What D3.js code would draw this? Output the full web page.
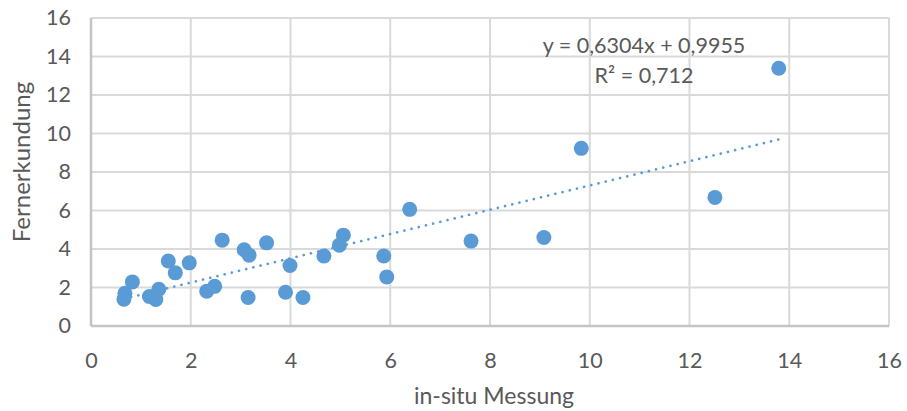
<!DOCTYPE html>
<html>
<head>
<meta charset="utf-8">
<script src="https://cdn.jsdelivr.net/npm/d3@7"></script>
<style>
  body { margin: 0; background: #fff; }
  text { font-family: Lato, "Open Sans", sans-serif; fill: #595959; }
</style>
</head>
<body>
<div id="chart"></div>
<script>
var width = 907,
  height = 411;

var margin = {top: 18, right: 18, bottom: 85, left: 91};

// in-situ Messung (x) vs Fernerkundung (y)
var insitu = [0.66, 0.68, 0.83, 1.17, 1.30, 1.36, 1.55, 1.69, 1.97, 2.32,
              2.48, 2.63, 3.07, 3.17, 3.15, 3.52, 3.90, 3.99, 4.25, 4.67,
              4.98, 5.06, 5.87, 5.93, 6.39, 7.62, 9.08, 9.83, 12.51, 13.79];
var fernerkundung = [1.39, 1.70, 2.29, 1.53, 1.38, 1.91, 3.38, 2.76, 3.28, 1.81,
                     2.06, 4.46, 3.96, 3.68, 1.48, 4.32, 1.75, 3.14, 1.48, 3.64,
                     4.20, 4.72, 3.64, 2.55, 6.06, 4.41, 4.60, 9.23, 6.68, 13.39];
var xTicks = [0, 2, 4, 6, 8, 10, 12, 14, 16];
var yTicks = [0, 2, 4, 6, 8, 10, 12, 14, 16];
var slope = 0.6304, intercept = 0.9955;

var points = insitu.map(function(d, i) { return {x: d, y: fernerkundung[i]}; });

var svg = d3.select("#chart").append("svg")
  .attr("width", width)
  .attr("height", height);

var x = d3.scaleLinear().domain([0, 16]).range([margin.left, width - margin.right]);
var y = d3.scaleLinear().domain([0, 16]).range([height - margin.bottom, margin.top]);

// gridlines
svg.append("g")
  .selectAll("line.v")
  .data(xTicks)
  .enter().append("line")
  .attr("x1", function(d) { return x(d); })
  .attr("x2", function(d) { return x(d); })
  .attr("y1", y(0))
  .attr("y2", y(16))
  .attr("stroke", "#d9d9d9")
  .attr("stroke-width", 2);

svg.append("g")
  .selectAll("line.h")
  .data(yTicks)
  .enter().append("line")
  .attr("x1", x(0))
  .attr("x2", x(16))
  .attr("y1", function(d) { return y(d); })
  .attr("y2", function(d) { return y(d); })
  .attr("stroke", "#d9d9d9")
  .attr("stroke-width", 2);

// axis lines slightly darker
svg.append("line")
  .attr("x1", x(0)).attr("x2", x(16))
  .attr("y1", y(0)).attr("y2", y(0))
  .attr("stroke", "#c4c4c4").attr("stroke-width", 2.5);
svg.append("line")
  .attr("x1", x(0)).attr("x2", x(0))
  .attr("y1", y(0)).attr("y2", y(16))
  .attr("stroke", "#c4c4c4").attr("stroke-width", 2.5);

// tick labels
var xAxis = svg.append("g")
  .attr("transform", "translate(0," + (y(0) + 19) + ")")
  .call(d3.axisBottom(x).tickValues(xTicks).tickSize(0).tickPadding(8));
var yAxis = svg.append("g")
  .attr("transform", "translate(" + (x(0) - 20) + ",0)")
  .call(d3.axisLeft(y).tickValues(yTicks).tickSize(0).tickPadding(0));
[xAxis, yAxis].forEach(function(a) {
  a.select(".domain").remove();
  a.selectAll("text")
    .style("font-size", "21.5px")
    .attr("fill", "#595959")
    .style("font-family", "Lato, 'Open Sans', sans-serif");
});

// trendline
var xMin = d3.min(insitu), xMax = d3.max(insitu);
svg.append("line")
  .attr("x1", x(xMin)).attr("y1", y(slope * xMin + intercept))
  .attr("x2", x(xMax)).attr("y2", y(slope * xMax + intercept))
  .attr("stroke", "#5b9bd5")
  .attr("stroke-width", 2.6)
  .attr("stroke-linecap", "round")
  .attr("stroke-dasharray", "0.1 7.3");

// markers
svg.append("g")
  .selectAll("circle")
  .data(points)
  .enter().append("circle")
  .attr("cx", function(d) { return x(d.x); })
  .attr("cy", function(d) { return y(d.y); })
  .attr("r", 7.5)
  .attr("fill", "#5b9bd5");

// equation
svg.append("text")
  .attr("x", 644).attr("y", 53)
  .attr("text-anchor", "middle")
  .style("font-size", "21.5px")
  .text("y = 0,6304x + 0,9955");
svg.append("text")
  .attr("x", 644).attr("y", 83)
  .attr("text-anchor", "middle")
  .style("font-size", "21.5px")
  .text("R² = 0,712");

// axis titles
svg.append("text")
  .attr("x", 494).attr("y", 404)
  .attr("text-anchor", "middle")
  .style("font-size", "23px")
  .text("in-situ Messung");
svg.append("text")
  .attr("transform", "translate(30,162) rotate(-90)")
  .attr("text-anchor", "middle")
  .style("font-size", "24px")
  .text("Fernerkundung");
</script>
</body>
</html>
